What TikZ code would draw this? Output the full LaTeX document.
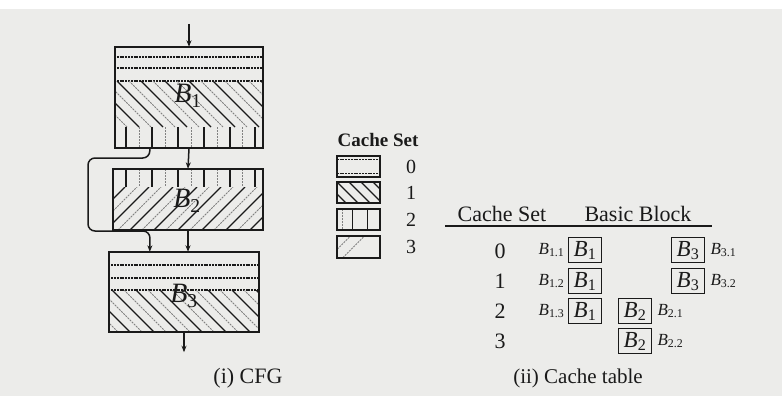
\documentclass[tikz,border=0pt]{standalone}
\usepackage{fontspec}
\setmainfont{Liberation Serif}
\usetikzlibrary{arrows.meta, positioning, calc}

\definecolor{paper}{HTML}{ECECEA}
\definecolor{ink}{HTML}{1A1A1A}

\newcommand{\bsub}[1]{B\textsubscript{\upshape #1}}

\tikzset{
  blkbox/.style={rectangle, inner sep=0pt},
  frame/.style={draw=ink, line width=2.2pt},
  flow/.style={draw=ink, line width=1.5pt, -{Stealth[length=6.5pt,width=5pt]}},
  hline/.style={ink, line width=1.1pt, dash pattern=on 2pt off 0.8pt},
  hatch/.style={ink, line width=1.1pt},
  hatchlt/.style={ink!55, line width=1pt, dash pattern=on 2pt off 1pt},
  bigb/.style={font=\fontsize{28}{30}\selectfont\itshape},
  legbox/.style={rectangle, inner sep=0pt, minimum width=43pt, minimum height=21pt},
  legtxt/.style={font=\fontsize{20}{22}\selectfont},
  tabtxt/.style={font=\fontsize{22}{24}\selectfont},
  tbox/.style={draw=ink, line width=1.8pt, inner sep=0.5pt, minimum width=33pt,
    text height=16pt, text depth=4pt, minimum height=25pt,
    font=\fontsize{23}{25}\selectfont\itshape},
  sublab/.style={font=\fontsize{17}{19}\selectfont\itshape, inner sep=1pt},
}

\begin{document}
\begin{tikzpicture}[x=1pt, y=-1pt, text=ink]
\fill[white] (0,0) rectangle (782,396);
\fill[paper] (0,9) rectangle (782,396);
\useasboundingbox (0,0) rectangle (782,396);

% ---- CFG blocks
\node[blkbox, minimum width=148pt, minimum height=101pt] (b1) at (189,97.5) {};
\node[blkbox, minimum width=150pt, minimum height=61pt] (b2) at (188,199.5) {};
\node[blkbox, minimum width=150pt, minimum height=80pt] (b3) at (184,292) {};

% B1: set 0, set 1, set 2
\begin{scope}
\clip (b1.south west) rectangle (b1.north east);
\foreach \yy in {57,68,81} \draw[hline] (100,\yy) -- (280,\yy);
\begin{scope}
\clip (100,81) rectangle (280,127);
\foreach \x in {69,93,...,263} \draw[hatch] (\x,81) -- ++(46,46);
\foreach \x in {81,105,...,263} \draw[hatchlt] (\x,81) -- ++(46,46);
\end{scope}
\foreach \x in {126,152,178,204,230,255} \draw[hatch] (\x,127) -- (\x,148);
\foreach \x in {139,165,191,217,242} \draw[hatchlt] (\x,127) -- (\x,148);
\end{scope}

% B2: set 2, set 3
\begin{scope}
\clip (b2.south west) rectangle (b2.north east);
\foreach \x in {126,152,178,204,230,255} \draw[hatch] (\x,169) -- (\x,187);
\foreach \x in {139,165,191,217,242} \draw[hatchlt] (\x,169) -- (\x,187);
\begin{scope}
\clip (100,187) rectangle (280,230);
\foreach \x in {58,82,...,263} \draw[hatch] (\x,230) -- ++(43,-43);
\foreach \x in {70,94,...,263} \draw[hatchlt] (\x,230) -- ++(43,-43);
\end{scope}
\end{scope}

% B3: set 0, set 1
\begin{scope}
\clip (b3.south west) rectangle (b3.north east);
\foreach \yy in {265,278,290} \draw[hline] (100,\yy) -- (280,\yy);
\begin{scope}
\clip (100,290) rectangle (280,332);
\foreach \x in {64,88,...,263} \draw[hatch] (\x,290) -- ++(42,42);
\foreach \x in {76,100,...,263} \draw[hatchlt] (\x,290) -- ++(42,42);
\end{scope}
\end{scope}

\foreach \b in {b1,b2,b3} \draw[frame] (\b.south west) rectangle (\b.north east);

\node[bigb] (l1) at (188,96) {\bsub{1}};
\node[bigb] (l2) at (187,201) {\bsub{2}};
\node[bigb] (l3) at (184,296) {\bsub{3}};

% ---- flow
\coordinate (in) at (189,24);
\coordinate (lpa) at ($(b1.south west)+(35,0)$);
\draw[flow] (in) -- (b1.north);
\draw[flow] (b1.south) -- (b2.north);
\draw[flow] (b2.south) -- (b2.south |- b3.north);
\draw[flow] (b3.south) -- ++(0,20);
\draw[flow, rounded corners=7pt] (lpa) |- (88,158) |- (150,231) -- (lpa |- b3.north);

\node[font=\fontsize{22}{24}\selectfont] (capa) at (248,378) {(i) CFG};

% ---- legend
\node[legtxt, font=\fontsize{19}{21}\selectfont\bfseries] (lgt) at (378,140) {Cache Set};
\foreach \i/\yy in {0/166.5,1/192.5,2/219.5,3/247}{
  \node[legbox] (lg\i) at (358.5,\yy) {};
  \node[legtxt] (ln\i) at (411,\yy) {\i};
}
\begin{scope}
\clip (lg0.south west) rectangle (lg0.north east);
\draw[hline] ($(lg0.north west)+(0,4)$) -- ($(lg0.north east)+(0,4)$);
\draw[hline] ($(lg0.south west)+(0,-4)$) -- ($(lg0.south east)+(0,-4)$);
\end{scope}
\begin{scope}
\clip (lg1.south west) rectangle (lg1.north east);
\foreach \x in {-12,0,...,43} \draw[hatch] ($(lg1.north west)+(\x,0)$) -- ++(21,21);
\end{scope}
\begin{scope}
\clip (lg2.south west) rectangle (lg2.north east);
\draw[hatchlt] ($(lg2.north west)+(6,0)$) -- ++(0,21);
\foreach \x in {16,31} \draw[hatch] ($(lg2.north west)+(\x,0)$) -- ++(0,21);
\end{scope}
\begin{scope}
\clip (lg3.south west) rectangle (lg3.north east);
\foreach \x in {-8,6} \draw[hatchlt] ($(lg3.south west)+(\x,0)$) -- ++(21,-21);
\end{scope}
\foreach \i in {0,...,3} \draw[ink, line width=1.7pt] (lg\i.south west) rectangle (lg\i.north east);

% ---- cache table
\node[tabtxt] (hda) at (502,214) {Cache Set};
\node[tabtxt] (hdb) at (638,214) {Basic Block};
\coordinate (rla) at (445,226);
\coordinate (rlb) at (712,226);
\draw[ink, line width=1.8pt] (rla) -- (rlb);

\foreach \r/\yy in {0/251,1/281,2/311,3/341} \node[tabtxt] (cs\r) at (500,\yy) {\r};

\node[tbox] (t10) at (585,250) {\bsub{1}};
\node[tbox] (t11) at (585,281) {\bsub{1}};
\node[tbox] (t12) at (585,311) {\bsub{1}};
\node[tbox] (t22) at (635,311) {\bsub{2}};
\node[tbox] (t23) at (635,341) {\bsub{2}};
\node[tbox] (t30) at (688,250) {\bsub{3}};
\node[tbox] (t31) at (688,281) {\bsub{3}};

\node[sublab, left=2pt of t10] (s11) {\bsub{1.1}};
\node[sublab, left=2pt of t11] (s12) {\bsub{1.2}};
\node[sublab, left=2pt of t12] (s13) {\bsub{1.3}};
\node[sublab, right=4pt of t22] (s21) {\bsub{2.1}};
\node[sublab, right=4pt of t23] (s22) {\bsub{2.2}};
\node[sublab, right=4pt of t30] (s31) {\bsub{3.1}};
\node[sublab, right=4pt of t31] (s32) {\bsub{3.2}};

\node[tabtxt, font=\fontsize{21}{23}\selectfont] (capb) at (578,378) {(ii) Cache table};
\end{tikzpicture}
\end{document}
